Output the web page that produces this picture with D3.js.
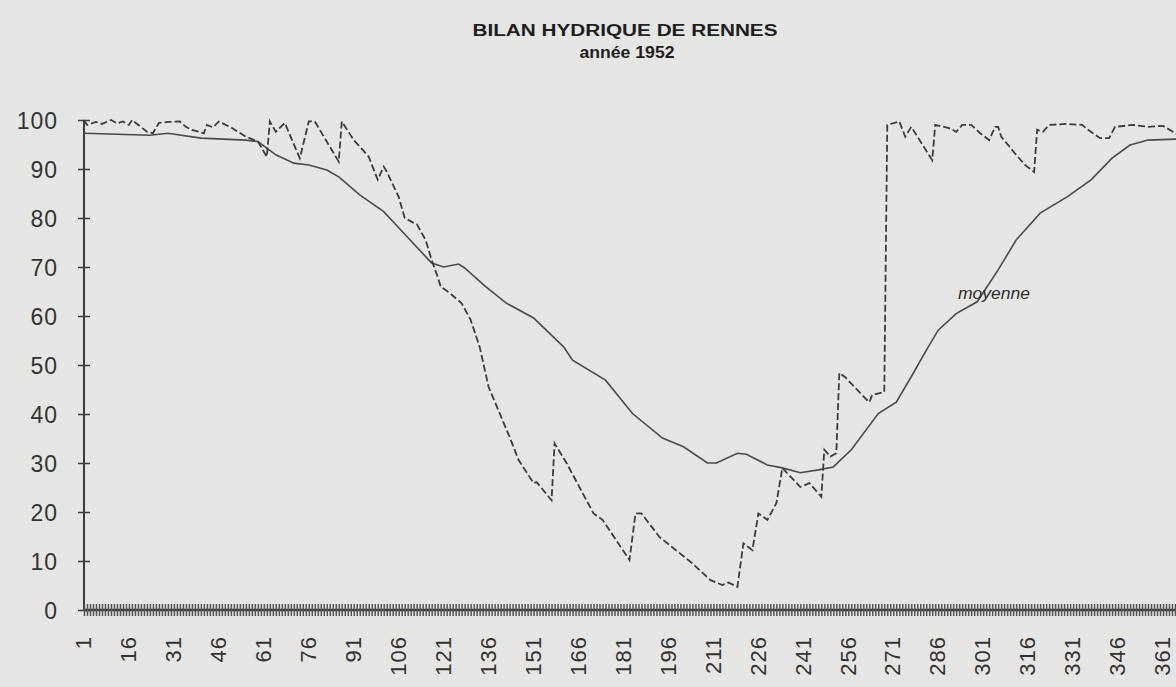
<!DOCTYPE html>
<html><head><meta charset="utf-8">
<script src="https://cdn.jsdelivr.net/npm/d3@7"></script>
<style>
html,body{margin:0;padding:0;background:#e5e5e3;}
svg{display:block;}
</style></head>
<body>
<svg id="c" width="1176" height="687"></svg>
<script>
// ---- data ----
const titleLines = ["BILAN HYDRIQUE DE RENNES", "année 1952"];
const days = d3.range(1, 367);                 // 1952: leap year, 366 days
const xTickLabels = d3.range(1, 367, 15);      // 1, 16, ... 361
const yTicks = [0,10,20,30,40,50,60,70,80,90,100];

// 1952 series (dashed) : day / value at the break points of the line
const dashDays = [1,2,5,7,10,12,14,16,17,22,24,26,29,33,35,37,41,42,44,46,50,55,59,62,63,65,68,73,76,78,86,87,91,94,96,99,101,102,106,108,111,112,115,117,119,120,123,127,130,133,136,143,146,151,152,157,158,162,171,174,183,185,187,193,204,210,214,216,219,221,224,226,229,232,234,240,243,247,248,250,252,253,255,259,263,264,268,269,273,275,277,284,285,290,292,294,297,300,303,305,306,307,312,315,318,319,321,323,329,334,336,340,343,345,351,356,361,366];
const dashValues = [100,99,99.6,99.2,100,99.3,99.7,99,100,97.6,97.3,99.4,99.6,99.7,98.6,98,97.3,99,98.5,99.7,98.5,96.6,95.6,92.5,99.7,97.6,99.4,92.2,99.7,99.7,91.5,99.7,95.9,93.9,92.5,87.8,90.5,89.5,84.3,80,79,78.8,75.5,71.4,68,66,64.7,62.6,59.2,53.7,45.5,35.3,30.6,25.9,26.1,22.4,34,30,19.7,18.4,10.2,19.7,19.7,14.9,9.5,6.1,5.1,5.6,4.7,13.6,12.2,19.7,18.4,21.8,29,25.1,25.9,23.1,32.7,31.3,32,48.4,47.5,44.9,42.4,43.9,44.5,99,99.7,96.6,98.6,91.8,99,98.3,97.6,99,99,97.3,95.9,98.6,98.6,96.6,92.9,90.8,89.4,98,97.6,99,99.2,99,98,96.3,96.3,98.6,99,98.6,98.8,97];

// moyenne (solid)
const meanDays = [1,23,29,40,55,59,65,71,76,82,86,93,101,106,117,121,126,128,135,142,151,161,164,175,184,194,201,209,212,219,222,229,234,240,246,251,257,266,272,277,282,286,292,299,306,312,320,329,337,344,350,356,366];
const meanValues = [97.3,96.9,97.3,96.3,95.9,95.6,92.9,91.2,90.8,89.8,88.4,84.7,81.3,78,70.8,70,70.6,69.8,66,62.6,59.6,53.7,51,46.9,40.1,35.1,33.3,30,30,32,31.8,29.6,29,28,28.6,29.2,32.7,40.1,42.4,47.6,53,57.1,60.5,62.9,69.4,75.5,81,84.3,87.8,92.2,94.9,95.9,96.1];
const meanLabel = "moyenne";

// ---- drawing ----
const svg = d3.select("#c");
const ink = "#3a3a3a";
const x = d3.scalePoint().domain(days).range([84, 1178]);
const y = d3.scaleLinear().domain([0, 100]).range([610, 120]);

// title
svg.append("text").attr("x", 625).attr("y", 36).attr("text-anchor", "middle")
  .attr("font-family", "'Liberation Sans Narrow','Arial Narrow','Liberation Sans',sans-serif")
  .attr("font-weight", "bold").attr("font-size", 16).attr("fill", "#1e1e1e")
  .attr("textLength", 305).attr("lengthAdjust", "spacingAndGlyphs")
  .text(titleLines[0]);
svg.append("text").attr("x", 627).attr("y", 58).attr("text-anchor", "middle")
  .attr("font-family", "'Liberation Sans Narrow','Arial Narrow','Liberation Sans',sans-serif")
  .attr("font-weight", "bold").attr("font-size", 16).attr("fill", "#1e1e1e")
  .attr("textLength", 95).attr("lengthAdjust", "spacingAndGlyphs")
  .text(titleLines[1]);

// y axis
const yAxis = svg.append("g").attr("transform", "translate(84,0)")
  .call(d3.axisLeft(y).tickValues(yTicks).tickSize(6).tickPadding(0));
yAxis.select(".domain").attr("d", `M0,${y(100)}V${y(0)}`).attr("stroke", ink).attr("stroke-width", 2);
yAxis.selectAll(".tick line").attr("x1", -6).attr("x2", 6).attr("stroke", ink).attr("stroke-width", 1.5);
yAxis.selectAll(".tick text").attr("x", -26).attr("dy", "0.36em")
  .attr("font-family", "'Liberation Sans',Arial,sans-serif").attr("font-size", 23)
  .attr("letter-spacing", 1).attr("fill", "#333").attr("text-anchor", "end");

// x axis
const labelSet = new Set(xTickLabels);
const xAxis = svg.append("g").attr("transform", `translate(0,${y(0)})`)
  .call(d3.axisBottom(x).tickValues(days).tickSize(6)
    .tickFormat(d => labelSet.has(d) ? String(d) : ""));
xAxis.select(".domain").attr("d", `M84,0H1176`).attr("stroke", ink).attr("stroke-width", 2.5);
xAxis.selectAll(".tick line").attr("y1", -6).attr("y2", 6).attr("stroke", "#555").attr("stroke-width", 1.5);
xAxis.selectAll(".tick text")
  .attr("font-family", "'Liberation Sans',Arial,sans-serif").attr("font-size", 22)
  .attr("letter-spacing", 1).attr("fill", "#333")
  .attr("text-anchor", "end").attr("dy", "0.35em").attr("y", 0)
  .attr("transform", "translate(-1,26) rotate(-90)");

// lines
const line = d3.line().x(d => x(d[0])).y(d => y(d[1]));
svg.append("path").datum(meanDays.map((d, i) => [d, meanValues[i]]))
  .attr("d", line).attr("fill", "none").attr("stroke", "#4a4a4a").attr("stroke-width", 1.6);
svg.append("path").datum(dashDays.map((d, i) => [d, dashValues[i]]))
  .attr("d", line).attr("fill", "none").attr("stroke", "#3c3c3c").attr("stroke-width", 1.8)
  .attr("stroke-dasharray", "7,3");

// moyenne label
svg.append("text").attr("x", 958).attr("y", 299)
  .attr("font-family", "'Liberation Sans',Arial,sans-serif").attr("font-style", "italic")
  .attr("font-size", 16).attr("fill", "#2e2e2e").attr("textLength", 72)
  .attr("lengthAdjust", "spacingAndGlyphs")
  .text(meanLabel);
</script>
</body></html>
